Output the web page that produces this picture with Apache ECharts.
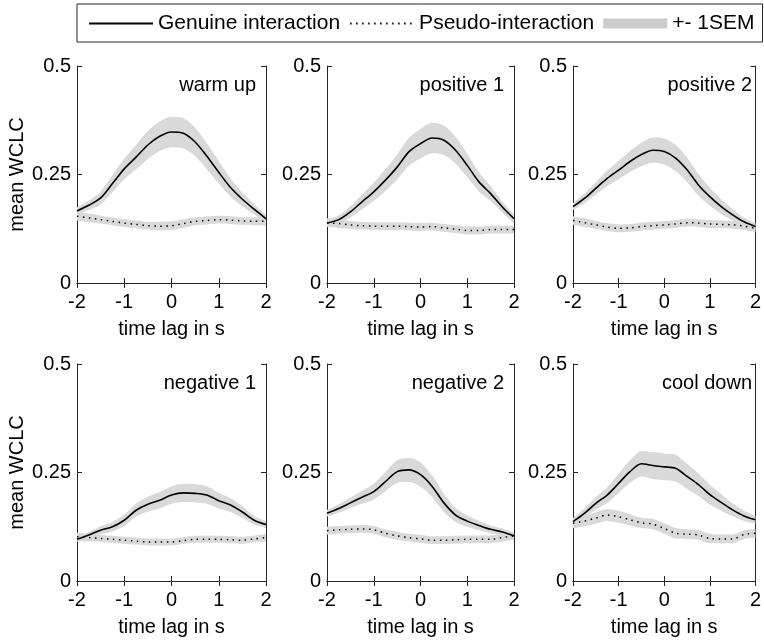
<!DOCTYPE html>
<html>
<head>
<meta charset="utf-8">
<script src="https://cdn.jsdelivr.net/npm/echarts@6/dist/echarts.min.js"></script>
<style>
  html, body { margin: 0; padding: 0; background: #fff; }
</style>
</head>
<body>
<div id="myCharts" style="width:764px;height:642px"></div>
<script>
// time lag in s
var lags = ['-2', '-1.75', '-1.5', '-1.25', '-1', '-0.75', '-0.5', '-0.25', '0', '0.25', '0.5', '0.75', '1', '1.25', '1.5', '1.75', '2']
var panelNames = ['warm up', 'positive 1', 'positive 2', 'negative 1', 'negative 2', 'cool down']
var yTicks = [0, 0.25, 0.5]

// mean WCLC, genuine interaction
var warmUpGenuine = [0.166, 0.179, 0.196, 0.229, 0.263, 0.29, 0.318, 0.338, 0.348, 0.345, 0.325, 0.292, 0.255, 0.22, 0.193, 0.17, 0.148]
var positive1Genuine = [0.138, 0.146, 0.164, 0.187, 0.21, 0.237, 0.267, 0.302, 0.321, 0.334, 0.329, 0.306, 0.271, 0.233, 0.206, 0.175, 0.148]
var positive2Genuine = [0.176, 0.195, 0.218, 0.241, 0.26, 0.28, 0.296, 0.306, 0.303, 0.288, 0.261, 0.226, 0.199, 0.176, 0.157, 0.141, 0.13]
var negative1Genuine = [0.096, 0.106, 0.117, 0.125, 0.14, 0.163, 0.177, 0.186, 0.198, 0.203, 0.202, 0.198, 0.185, 0.175, 0.159, 0.14, 0.13]
var negative2Genuine = [0.156, 0.167, 0.18, 0.193, 0.206, 0.229, 0.252, 0.256, 0.245, 0.218, 0.18, 0.152, 0.138, 0.128, 0.119, 0.113, 0.104]
var coolDownGenuine = [0.137, 0.156, 0.179, 0.198, 0.225, 0.252, 0.27, 0.266, 0.263, 0.26, 0.241, 0.222, 0.199, 0.181, 0.164, 0.15, 0.141]

// mean WCLC, pseudo-interaction
var warmUpPseudo = [0.154, 0.15, 0.146, 0.142, 0.138, 0.135, 0.132, 0.131, 0.132, 0.137, 0.142, 0.144, 0.146, 0.145, 0.143, 0.142, 0.142]
var positive1Pseudo = [0.139, 0.137, 0.134, 0.132, 0.131, 0.131, 0.131, 0.13, 0.129, 0.13, 0.127, 0.124, 0.121, 0.121, 0.123, 0.123, 0.123]
var positive2Pseudo = [0.144, 0.139, 0.134, 0.129, 0.126, 0.127, 0.13, 0.132, 0.134, 0.136, 0.139, 0.138, 0.136, 0.135, 0.134, 0.131, 0.126]
var negative1Pseudo = [0.102, 0.1, 0.098, 0.096, 0.094, 0.092, 0.09, 0.09, 0.09, 0.093, 0.096, 0.096, 0.096, 0.095, 0.094, 0.097, 0.1]
var negative2Pseudo = [0.116, 0.118, 0.119, 0.12, 0.118, 0.11, 0.104, 0.1, 0.097, 0.094, 0.094, 0.095, 0.096, 0.096, 0.096, 0.1, 0.104]
var coolDownPseudo = [0.133, 0.138, 0.145, 0.152, 0.148, 0.141, 0.134, 0.131, 0.121, 0.11, 0.108, 0.106, 0.098, 0.097, 0.097, 0.107, 0.11]

// +- 1SEM, genuine
var warmUpGenuineSem = [0.008, 0.011, 0.015, 0.02, 0.024, 0.028, 0.032, 0.034, 0.035, 0.035, 0.033, 0.03, 0.026, 0.021, 0.016, 0.012, 0.009]
var positive1GenuineSem = [0.007, 0.01, 0.013, 0.017, 0.021, 0.025, 0.029, 0.032, 0.034, 0.035, 0.034, 0.031, 0.027, 0.022, 0.017, 0.013, 0.01]
var positive2GenuineSem = [0.008, 0.011, 0.014, 0.018, 0.021, 0.024, 0.027, 0.029, 0.03, 0.03, 0.028, 0.025, 0.021, 0.017, 0.013, 0.01, 0.008]
var negative1GenuineSem = [0.006, 0.007, 0.009, 0.011, 0.013, 0.015, 0.017, 0.019, 0.02, 0.021, 0.021, 0.02, 0.018, 0.016, 0.013, 0.01, 0.008]
var negative2GenuineSem = [0.008, 0.01, 0.012, 0.015, 0.018, 0.022, 0.026, 0.028, 0.028, 0.025, 0.021, 0.016, 0.013, 0.011, 0.009, 0.008, 0.007]
var coolDownGenuineSem = [0.008, 0.011, 0.014, 0.018, 0.022, 0.026, 0.029, 0.031, 0.031, 0.031, 0.029, 0.026, 0.023, 0.019, 0.015, 0.012, 0.009]

// +- 1SEM, pseudo
var warmUpPseudoSem = [0.01, 0.01, 0.009, 0.009, 0.009, 0.009, 0.009, 0.01, 0.01, 0.01, 0.009, 0.009, 0.009, 0.009, 0.009, 0.009, 0.01]
var positive1PseudoSem = [0.01, 0.01, 0.009, 0.009, 0.009, 0.009, 0.009, 0.009, 0.009, 0.009, 0.009, 0.009, 0.009, 0.009, 0.009, 0.009, 0.009]
var positive2PseudoSem = [0.01, 0.01, 0.009, 0.009, 0.009, 0.009, 0.009, 0.009, 0.009, 0.009, 0.009, 0.009, 0.009, 0.009, 0.009, 0.009, 0.009]
var negative1PseudoSem = [0.009, 0.009, 0.008, 0.008, 0.008, 0.008, 0.008, 0.008, 0.008, 0.008, 0.008, 0.008, 0.008, 0.008, 0.008, 0.008, 0.009]
var negative2PseudoSem = [0.009, 0.009, 0.009, 0.009, 0.009, 0.009, 0.009, 0.009, 0.009, 0.009, 0.009, 0.009, 0.009, 0.009, 0.009, 0.009, 0.009]
var coolDownPseudoSem = [0.012, 0.012, 0.013, 0.014, 0.014, 0.013, 0.012, 0.012, 0.012, 0.012, 0.011, 0.011, 0.011, 0.01, 0.01, 0.01, 0.01]

var genuineList = [warmUpGenuine, positive1Genuine, positive2Genuine, negative1Genuine, negative2Genuine, coolDownGenuine]
var pseudoList = [warmUpPseudo, positive1Pseudo, positive2Pseudo, negative1Pseudo, negative2Pseudo, coolDownPseudo]
var genuineSemList = [warmUpGenuineSem, positive1GenuineSem, positive2GenuineSem, negative1GenuineSem, negative2GenuineSem, coolDownGenuineSem]
var pseudoSemList = [warmUpPseudoSem, positive1PseudoSem, positive2PseudoSem, negative1PseudoSem, negative2PseudoSem, coolDownPseudoSem]

var FONT = "'Liberation Sans', Arial, sans-serif"
var AXIS_COLOR = '#262626'
var BAND_COLOR = '#d9d9d9'

// panel layout
var colLeft = [77, 327, 573]
var colWidth = [189, 187, 189]
var rowTop = [66, 364]
var rowHeight = 217

var myCharts = echarts.init(document.getElementById('myCharts'))

// hide the little circle echarts puts on line legend icons
var noSymbol = { color: 'rgba(0,0,0,0)', borderWidth: 0, opacity: 0 }

var option = {
  animation: false,
  backgroundColor: '#fff',
  textStyle: { fontFamily: FONT },
  legend: {
    left: 77,
    top: 4,
    padding: [9, 8, 8, 11],
    itemWidth: 64,
    itemHeight: 10,
    itemGap: 9,
    borderColor: AXIS_COLOR,
    borderWidth: 1,
    textStyle: { fontSize: 21, color: '#000', fontFamily: FONT },
    data: [
      { name: 'Genuine interaction', itemStyle: noSymbol },
      { name: 'Pseudo-interaction', itemStyle: noSymbol },
      { name: '+- 1SEM', icon: 'rect', itemStyle: { color: '#cccccc' } }
    ]
  },
  title: [],
  grid: [],
  xAxis: [],
  yAxis: [],
  series: []
}

function bandSeries (idx, mean, sem, key) {
  var lower = mean.map(function (v, i) { return +(v - sem[i]).toFixed(4) })
  var width = sem.map(function (v) { return +(2 * v).toFixed(4) })
  return [
    {
      name: 'band-low-' + key,
      type: 'line',
      xAxisIndex: idx * 2,
      yAxisIndex: idx * 2,
      stack: key + idx,
      data: lower,
      symbol: 'none',
      smooth: 0.3,
      lineStyle: { opacity: 0 },
      silent: true
    },
    {
      name: '+- 1SEM',
      type: 'line',
      xAxisIndex: idx * 2,
      yAxisIndex: idx * 2,
      stack: key + idx,
      data: width,
      symbol: 'none',
      smooth: 0.3,
      itemStyle: { color: BAND_COLOR },
      lineStyle: { opacity: 0 },
      areaStyle: { color: BAND_COLOR, opacity: 1 },
      silent: true
    }
  ]
}

panelNames.forEach(function (name, idx) {
  var row = Math.floor(idx / 3)
  var col = idx % 3
  var left = colLeft[col]
  var width = colWidth[col]
  var top = rowTop[row]

  option.grid.push({ left: left, top: top, width: width, height: rowHeight })

  option.title.push({
    text: name,
    right: 764 - (left + width) + 10,
    top: top + 9,
    padding: 0,
    textStyle: { fontSize: 20, fontWeight: 'normal', color: '#000', fontFamily: FONT }
  })

  var tickCommon = { show: true, inside: true, length: 5, interval: 3, lineStyle: { color: AXIS_COLOR } }
  // bottom + top x axis
  option.xAxis.push({
    type: 'category',
    gridIndex: idx,
    data: lags,
    boundaryGap: false,
    position: 'bottom',
    axisLine: { lineStyle: { color: AXIS_COLOR, width: 1 } },
    axisTick: tickCommon,
    axisLabel: { interval: 3, margin: 9, fontSize: 20, color: '#000', fontFamily: FONT },
    splitLine: { show: false },
    name: 'time lag in s',
    nameLocation: 'middle',
    nameGap: 36,
    nameTextStyle: { fontSize: 20, color: '#000', fontFamily: FONT }
  })
  option.xAxis.push({
    type: 'category',
    gridIndex: idx,
    data: lags,
    boundaryGap: false,
    position: 'top',
    axisLine: { lineStyle: { color: AXIS_COLOR, width: 1 } },
    axisTick: tickCommon,
    axisLabel: { show: false },
    splitLine: { show: false }
  })
  // left + right y axis
  option.yAxis.push({
    type: 'value',
    gridIndex: idx,
    min: yTicks[0],
    max: yTicks[yTicks.length - 1],
    interval: yTicks[1] - yTicks[0],
    position: 'left',
    axisLine: { show: true, lineStyle: { color: AXIS_COLOR, width: 1 } },
    axisTick: { show: true, inside: true, length: 5, lineStyle: { color: AXIS_COLOR } },
    axisLabel: { margin: 6, fontSize: 20, color: '#000', fontFamily: FONT },
    splitLine: { show: false },
    name: col === 0 ? 'mean WCLC' : '',
    nameLocation: 'middle',
    nameGap: 50,
    nameTextStyle: { fontSize: 20, color: '#000', fontFamily: FONT }
  })
  option.yAxis.push({
    type: 'value',
    gridIndex: idx,
    min: yTicks[0],
    max: yTicks[yTicks.length - 1],
    interval: yTicks[1] - yTicks[0],
    position: 'right',
    axisLine: { show: true, lineStyle: { color: AXIS_COLOR, width: 1 } },
    axisTick: { show: true, inside: true, length: 5, lineStyle: { color: AXIS_COLOR } },
    axisLabel: { show: false },
    splitLine: { show: false }
  })

  option.series = option.series
    .concat(bandSeries(idx, pseudoList[idx], pseudoSemList[idx], 'pseudo'))
    .concat(bandSeries(idx, genuineList[idx], genuineSemList[idx], 'genuine'))

  option.series.push({
    name: 'Genuine interaction',
    type: 'line',
    xAxisIndex: idx * 2,
    yAxisIndex: idx * 2,
    data: genuineList[idx],
    symbol: 'none',
    smooth: 0.3,
    itemStyle: { color: '#000' },
    lineStyle: { color: '#000', width: 1.6 },
    z: 3
  })
  option.series.push({
    name: 'Pseudo-interaction',
    type: 'line',
    xAxisIndex: idx * 2,
    yAxisIndex: idx * 2,
    data: pseudoList[idx],
    symbol: 'none',
    smooth: 0.3,
    itemStyle: { color: '#000' },
    lineStyle: { color: '#000', width: 1.5, type: [1.5, 4.5] },
    z: 3
  })
})

myCharts.setOption(option)
</script>
</body>
</html>
